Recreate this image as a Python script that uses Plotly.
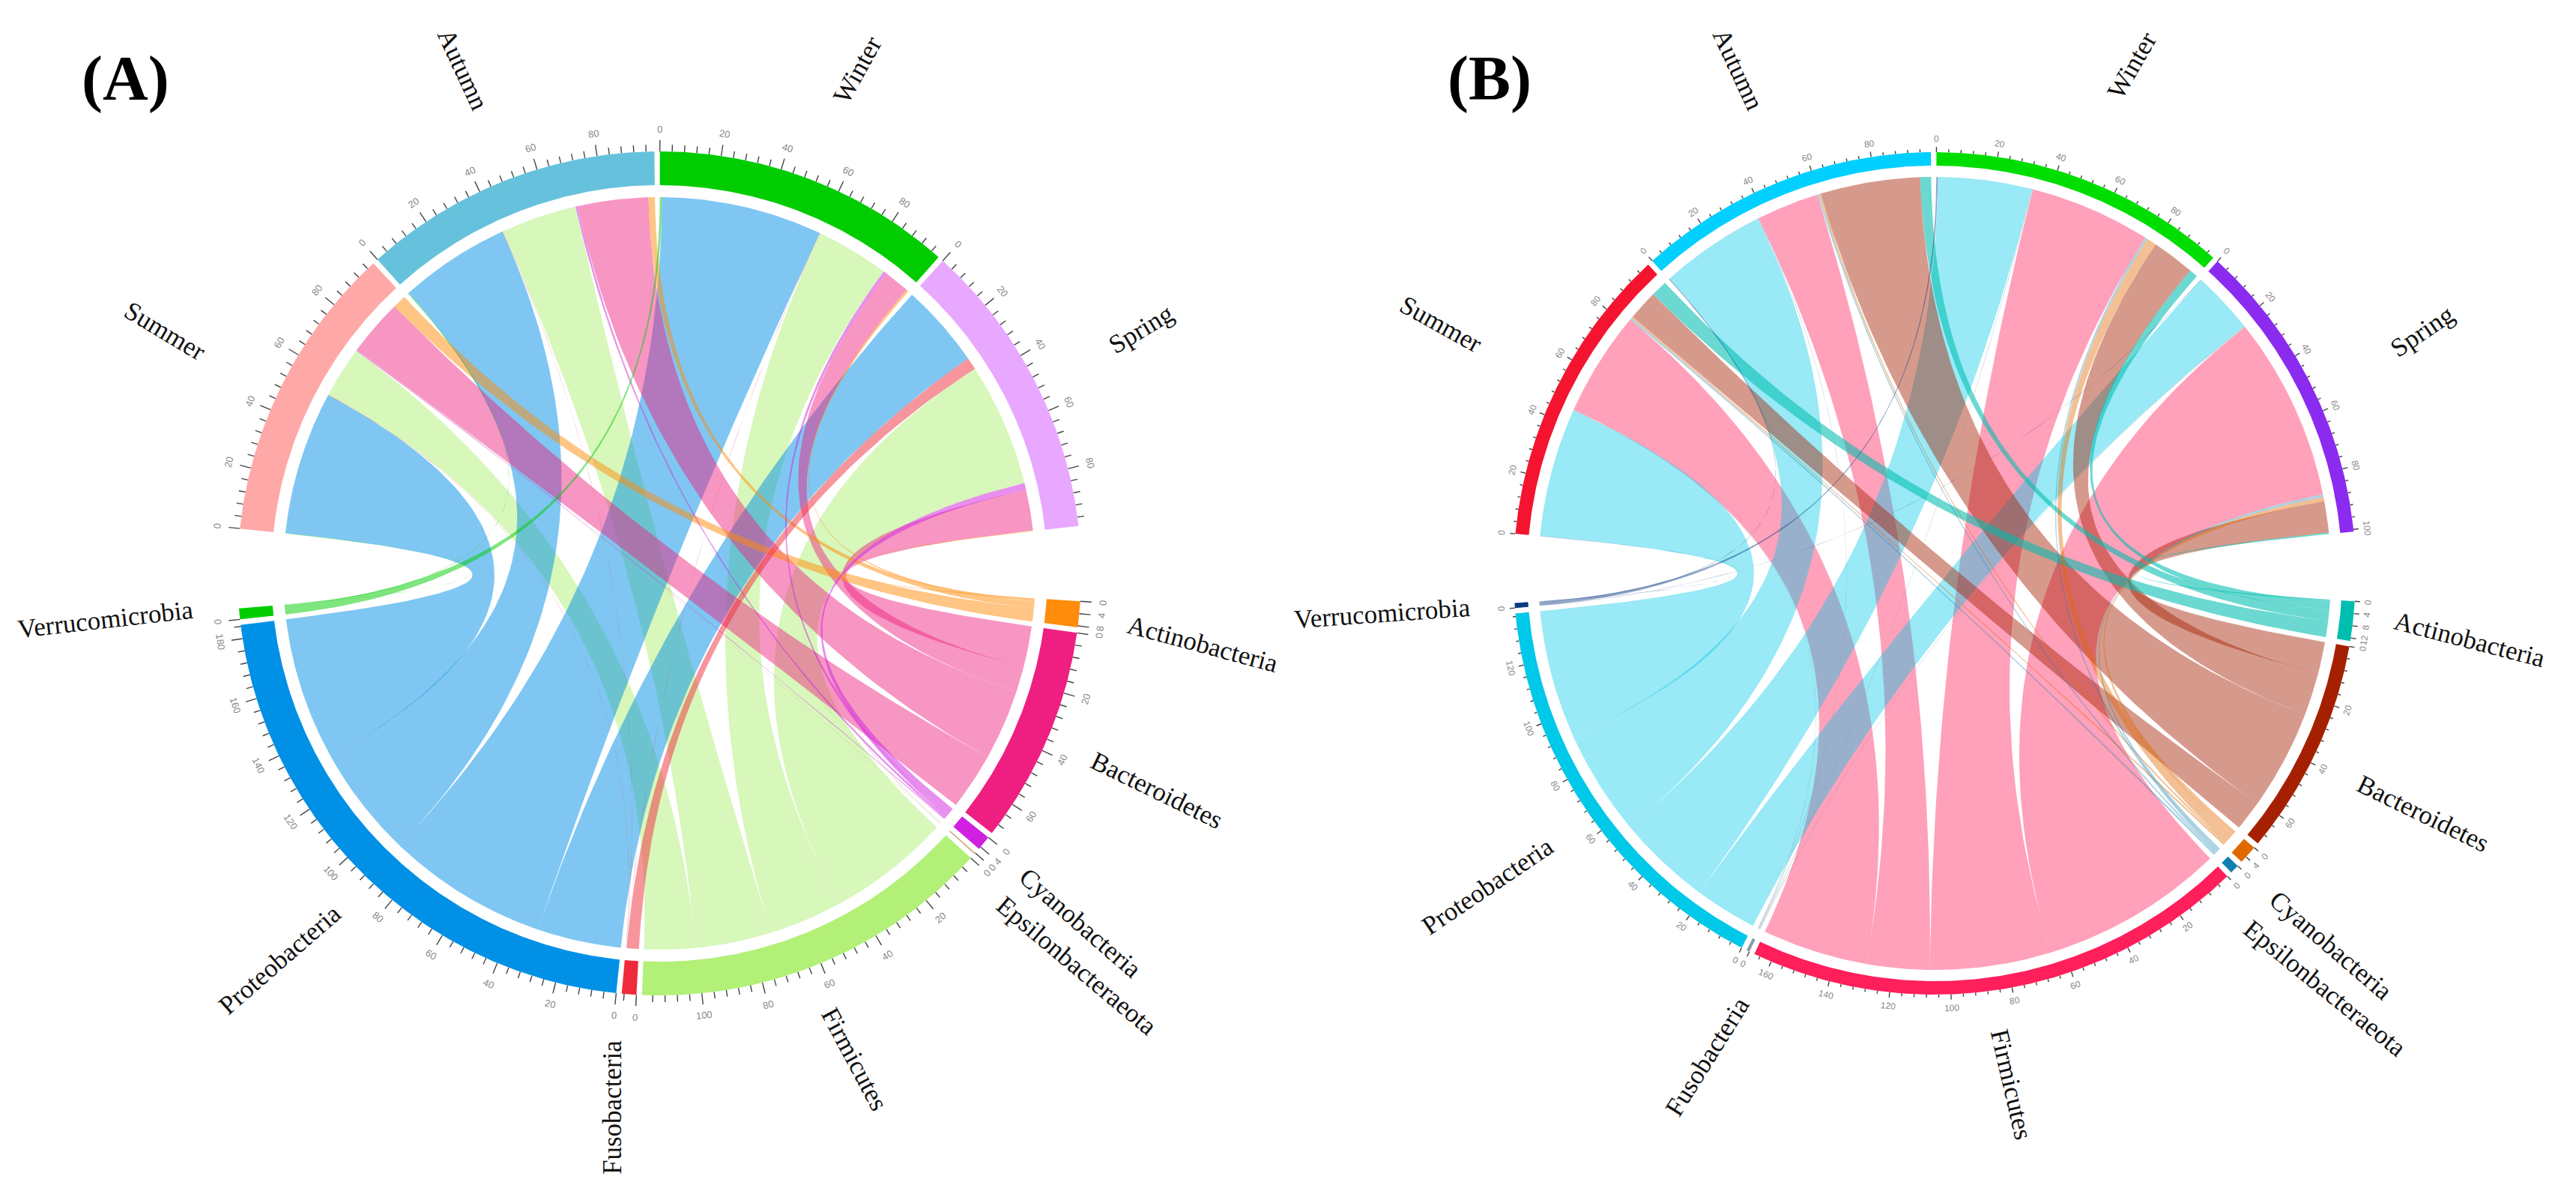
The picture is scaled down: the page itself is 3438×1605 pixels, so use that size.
import math
import plotly.graph_objects as go

SEASONS = ["Summer", "Autumn", "Winter", "Spring"]
PHYLA = ["Actinobacteria", "Bacteroidetes", "Cyanobacteria", "Epsilonbacteraeota",
         "Firmicutes", "Fusobacteria", "Proteobacteria", "Verrucomicrobia"]

# abundance of each phylum (order of PHYLA) per season, panel A
A_WINTER = [0.8, 9.5, 1.2, 0.1, 27, 0.1, 59.5, 0.8]
A_SPRING = [0.3, 15, 2.5, 0.1, 45.5, 4.5, 31, 0.0]
A_AUTUMN = [2.4, 26, 0.8, 0.1, 28, 0.1, 41, 0.3]
A_SUMMER = [5, 21, 0.3, 0.1, 19, 0.1, 53, 0.1]
# panel B
B_WINTER = [3, 15, 3.5, 0.8, 42.5, 0.25, 33, 0.5]
B_SPRING = [0.5, 11, 1.5, 0.9, 64.5, 0.25, 22, 0.1]
B_AUTUMN = [3.8, 35, 0.6, 0.6, 22, 0.25, 37, 0.3]
B_SUMMER = [5.7, 10.5, 0.6, 0.7, 37, 0.25, 45, 0.1]
# width of the Verrucomicrobia ribbons where they reach the phylum arc (Summer, Autumn, Winter, Spring)
A_VERR_END = [0.1, 0.3, 3.2, 0.0]
B_VERR_END = [0.1, 0.3, 1.1, 0.1]

A_SEASON_COLORS = ["#FFA8A8", "#66C2DC", "#00CC00", "#E8A8FF"]
A_PHYLUM_COLORS = ["#FF8C0A", "#EE1F80", "#D020E0", "#C8A878", "#B2F078", "#EF2B3B", "#0090E6", "#00CC00"]
B_SEASON_COLORS = ["#F4142F", "#00CFFF", "#00DD00", "#8B2BF0"]
B_PHYLUM_COLORS = ["#00BEAF", "#A52000", "#E06A00", "#1080B0", "#FF1F5B", "#8899AA", "#00C8E8", "#0A3A80"]
A_CHORD_ALPHA = [0.5, 0.47, 0.5, 0.5, 0.5, 0.5, 0.5, 0.5]
B_CHORD_ALPHA = [0.58, 0.45, 0.42, 0.35, 0.42, 0.42, 0.4, 0.45]

A_LABELS = {"Autumn": (618, 92, 65), "Winter": (1144, 93, -61), "Spring": (1522, 439, -31),
            "Summer": (220, 441, 31), "Verrucomicrobia": (141, 826, -6.5), "Actinobacteria": (1605, 859, 15),
            "Bacteroidetes": (1544, 1054, 26), "Cyanobacteria": (1442, 1231, 41),
            "Epsilonbacteraeota": (1437, 1288, 40), "Firmicutes": (1141, 1413, 62),
            "Fusobacteria": (817, 1478, -90), "Proteobacteria": (373, 1280, -41)}
B_LABELS = {"Autumn": (2320, 92, 65), "Winter": (2845, 87, -60), "Spring": (3232, 442, -34),
            "Summer": (1923, 432, 29), "Verrucomicrobia": (1845, 818, -4), "Actinobacteria": (3296, 853, 14.5),
            "Bacteroidetes": (3234, 1085, 26), "Cyanobacteria": (3111, 1261, 40.5),
            "Epsilonbacteraeota": (3103, 1318, 39), "Firmicutes": (2685, 1447, 77),
            "Fusobacteria": (2278, 1410, -58), "Proteobacteria": (1985, 1182, -34)}

SCALE = 0.418      # degrees per unit
GAP = 0.75
PHYLUM_START = 93.8
FONT = "Liberation Serif"


def alpha(c, a):
    return f"rgba({int(c[1:3],16)},{int(c[3:5],16)},{int(c[5:7],16)},{a})"


def pol(cx, cy, r, deg):
    t = math.radians(deg)
    return cx + r * math.sin(t), cy - r * math.cos(t)


def arc(cx, cy, r, a0, a1):
    n = max(2, int(abs(a1 - a0) * 2) + 2)
    return [pol(cx, cy, r, a0 + (a1 - a0) * i / (n - 1)) for i in range(n)]


def bez(p0, c, p1, n=60):
    return [((1 - t) ** 2 * p0[0] + 2 * t * (1 - t) * c[0] + t * t * p1[0],
             (1 - t) ** 2 * p0[1] + 2 * t * (1 - t) * c[1] + t * t * p1[1])
            for t in (i / (n - 1) for i in range(n))]


def poly(fig, pts, color):
    fig.add_trace(go.Scatter(x=[p[0] for p in pts] + [pts[0][0]], y=[p[1] for p in pts] + [pts[0][1]],
                             mode="lines", fill="toself", fillcolor=color, line=dict(width=0),
                             hoverinfo="skip", showlegend=False))


annotations = []


def panel(fig, cx, cy, R, r_in, r_ch, rows, verr_end, scol, pcol, chord_a, labels, tag, tagx,
          season_start, tick_maj, tick_min, lab_off, lab_size):
    order = SEASONS
    VI = PHYLA.index("Verrucomicrobia")
    phylum_side = {s: list(rows[s]) for s in order}
    for s, w in zip(order, verr_end):
        phylum_side[s][VI] = w
    stot = [sum(rows[s]) for s in order]
    ptot = [sum(phylum_side[s][i] for s in order) for i in range(len(PHYLA))]
    s_start = {}
    a = season_start
    for s, t in zip(order, stot):
        s_start[s] = a
        a += t * SCALE + GAP
    p_start = {}
    a = PHYLUM_START
    for p, t in zip(PHYLA, ptot):
        p_start[p] = a
        a += t * SCALE + GAP

    s_pos = {}
    for s in order:
        a = s_start[s]
        for i in reversed(range(len(PHYLA))):
            v = rows[s][i]
            s_pos[(s, i)] = (a, a + v * SCALE)
            a += v * SCALE
    p_pos = {}
    for i, p in enumerate(PHYLA):
        a = p_start[p]
        for s in ["Spring", "Winter", "Autumn", "Summer"]:
            v = phylum_side[s][i]
            p_pos[(s, i)] = (a, a + v * SCALE)
            a += v * SCALE

    for i in [4, 6, 1, 0, 5, 2, 3, 7]:
        for s in order:
            a0, a1 = s_pos[(s, i)]
            b0, b1 = p_pos[(s, i)]
            if a1 - a0 <= 0 or b1 - b0 <= 0:
                continue
            c = (cx, cy)
            pts = arc(cx, cy, r_ch, a0, a1)
            pts += bez(pts[-1], c, pol(cx, cy, r_ch, b0))
            pts += arc(cx, cy, r_ch, b0, b1)
            pts += bez(pts[-1], c, pol(cx, cy, r_ch, a0))
            poly(fig, pts, alpha(pcol[i], chord_a[i]))

    tx, ty = [], []
    sectors = [(s, s_start[s], t, col) for s, t, col in zip(order, stot, scol)] + \
              [(p, p_start[p], t, col) for p, t, col in zip(PHYLA, ptot, pcol)]
    for name, st, tot, col in sectors:
        en = st + tot * SCALE
        poly(fig, arc(cx, cy, R, st, en) + arc(cx, cy, r_in, en, st), col)
        v = 0
        lab_every = 20 if tot >= 20 else 4
        while v <= tot + 1e-6:
            ang = st + v * SCALE
            major = v % lab_every == 0 and not (name == "Fusobacteria" and v > 0)
            L = tick_maj if major else tick_min
            p0, p1 = pol(cx, cy, R, ang), pol(cx, cy, R + L, ang)
            tx += [p0[0], p1[0], None]
            ty += [p0[1], p1[1], None]
            if major:
                lx, ly = pol(cx, cy, R + lab_off, ang)
                norm = ang % 360
                rot = norm - 180 if 90 < norm < 270 else norm
                annotations.append(dict(x=lx, y=ly, xref="x", yref="y", text=str(v), showarrow=False,
                                        textangle=rot, font=dict(family="Liberation Sans", size=lab_size, color="#888888")))
            v += 4
        lx, ly, rot = labels[name]
        annotations.append(dict(x=lx, y=ly, xref="x", yref="y", text=name, showarrow=False, textangle=rot,
                                font=dict(family=FONT, size=35, color="#111111")))
    fig.add_trace(go.Scatter(x=tx, y=ty, mode="lines", line=dict(color="#444444", width=1.4),
                             hoverinfo="skip", showlegend=False))
    annotations.append(dict(x=tagx, y=105, xref="x", yref="y", text=f"<b>{tag}</b>", showarrow=False,
                            font=dict(family=FONT, size=84, color="#000000")))


fig = go.Figure()
panel(fig, 880, 765, 563, 518, 502,
      {"Winter": A_WINTER, "Spring": A_SPRING, "Autumn": A_AUTUMN, "Summer": A_SUMMER}, A_VERR_END,
      A_SEASON_COLORS, A_PHYLUM_COLORS, A_CHORD_ALPHA, A_LABELS, "(A)", 167, -83.9, 15, 9, 30, 13)
panel(fig, 2582, 765, 562, 544, 529,
      {"Winter": B_WINTER, "Spring": B_SPRING, "Autumn": B_AUTUMN, "Summer": B_SUMMER}, B_VERR_END,
      B_SEASON_COLORS, B_PHYLUM_COLORS, B_CHORD_ALPHA, B_LABELS, "(B)", 1988, -84.6, 7, 4, 18, 12)

fig.update_layout(width=3438, height=1605, margin=dict(l=0, r=0, t=0, b=0),
                  paper_bgcolor="white", plot_bgcolor="white", annotations=annotations,
                  xaxis=dict(range=[0, 3438], visible=False, fixedrange=True),
                  yaxis=dict(range=[1605, 0], visible=False, fixedrange=True))
fig.write_html("out.html", post_script="document.body.style.margin='0';", config={"displayModeBar": False})
